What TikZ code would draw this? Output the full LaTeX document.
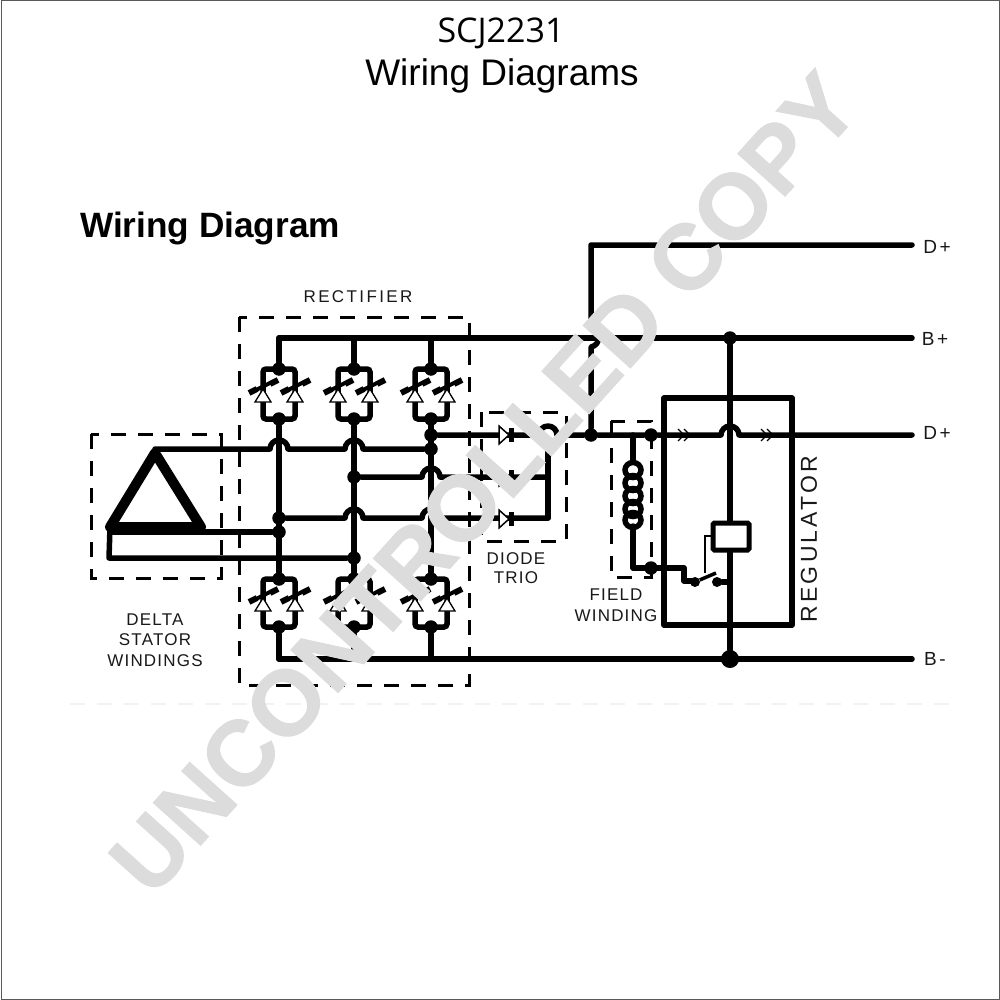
\documentclass[tikz,border=0pt]{standalone}
\usepackage{fontspec}
\setmainfont{Liberation Sans}
\newfontfamily\titlefont{Open Sans}
\newfontfamily\cadfont[LetterSpace=14]{Liberation Sans}
\newfontfamily\cadnarrow[LetterSpace=7]{Liberation Sans}
\newfontfamily\headfont{Liberation Sans Bold}
\newfontfamily\markfont[FakeBold=1]{Liberation Sans Bold}
\definecolor{markgray}{HTML}{DCDCDC}
\tikzset{
  wire/.style={line width=5.5pt,line join=round,line cap=round},
  box/.style={line width=3pt,dash pattern=on 15pt off 12pt},
  junction/.style={circle,fill=black,inner sep=0pt,minimum size=13.5pt},
  bigjunction/.style={circle,fill=black,inner sep=0pt,minimum size=18pt},
  cad/.style={font=\cadfont\fontsize{17}{19}\selectfont,align=center,inner sep=0pt,text=black!90},
  cadn/.style={font=\cadnarrow\fontsize{17}{19}\selectfont,align=center,inner sep=0pt,text=black!90},
  term/.style={font=\cadfont\fontsize{19}{21}\selectfont,inner sep=0pt,text=black!90},
  diodetri/.style={draw=black,fill=white,line width=1.3pt,line join=miter},
}
% hop over a vertical wire at x=#1, on a wire at y=#2
\def\hop#1#2{-- (#1-9,#2) arc[start angle=180,end angle=360,x radius=9,y radius=9]}
% rectifier module with centre x=#1, top y=#2, bottom y=#3, triangle apex y=#4
\newcommand{\rectmod}[4]{%
  \draw[line width=5.5pt,rounded corners=3pt] (#1-16,#4+13) -- (#1-16,#2) -- (#1+16,#2) -- (#1+16,#4+13) -- (#1+16,#3) -- (#1-16,#3) -- cycle;
  \foreach \dx in {-16,16}{
    \draw[line width=4pt] (#1+\dx-7,#4+1) -- (#1+\dx+7,#4-6);
    \draw[line width=6pt] (#1+\dx-14,#4+4) -- (#1+\dx-6,#4);
    \draw[line width=6pt] (#1+\dx+7,#4-5) -- (#1+\dx+15,#4-9);
    \draw[diodetri] (#1+\dx,#4) -- (#1+\dx-8,#4+13) -- (#1+\dx+8,#4+13) -- cycle;
  }
}
% trio diode at x=#1, y=#2
\newcommand{\triodiode}[2]{%
  \draw[diodetri,line width=1.5pt] (#1-11,#2-9) -- (#1-1,#2) -- (#1-11,#2+9) -- cycle;
  \draw[line width=5pt] (#1+1,#2-7) -- (#1+1,#2+7);
}
\newcommand{\chevrons}[2]{%
  \draw[line width=1.2pt,draw=black] (#1-6,#2-6) -- (#1,#2) -- (#1-6,#2+6);
  \draw[line width=1.2pt,draw=black] (#1,#2-6) -- (#1+6,#2) -- (#1,#2+6);
}
\begin{document}
\begin{tikzpicture}[x=1pt,y=-1pt]
\useasboundingbox (0,0) rectangle (1000,1000);
\fill[white] (0,0) rectangle (1000,1000);
\draw[line width=1pt,black!65] (1,1) rectangle (999,999);

% titles
\node[font=\titlefont\fontsize{34}{38}\selectfont,inner sep=0pt,anchor=base] (title1) at (501,42.5) {SCJ2231};
\node[font=\fontsize{37}{44}\selectfont,inner sep=0pt,anchor=base] (title2) at (502,86) {Wiring Diagrams};
\node[font=\headfont\fontsize{35.2}{40}\selectfont,inner sep=0pt,anchor=base west] (head) at (80,237) {Wiring Diagram};

% dashed boxes
\draw[box] (239,317) rectangle (469,685);
\draw[box] (91,434) rectangle (221,578);
\draw[box] (481,412) rectangle (566,541);
\draw[box] (611,421) rectangle (651,577);
\draw[line width=1.5pt,black!5,dash pattern=on 15pt off 12pt] (70,704) -- (960,704);

% rail coordinates
\coordinate (bpIn) at (279,338);
\coordinate (bpEnd) at (912,338);
\coordinate (bmIn) at (279,659);
\coordinate (bmEnd) at (912,659);
\coordinate (dpEnd) at (912,435);
\coordinate (dtop) at (912,245);
\node[junction] (jA) at (730,338) {};
\node[bigjunction] (jB) at (730,659) {};
\node[junction] (jD) at (591,435) {};
\node[junction] (jF) at (651,435) {};
\node[junction] (jG) at (651,568) {};
\node[junction] (j1) at (431,435) {};
\node[junction] (j2) at (431,449) {};
\node[junction] (j3) at (354,477) {};
\node[junction] (j4) at (279,518) {};
\node[junction] (j5) at (279,532) {};
\node[junction] (j6) at (354,558) {};
\foreach \xx/\nm in {279/a,354/b,431/c}{
  \node[junction] (ut\nm) at (\xx,369) {};
  \node[junction] (ub\nm) at (\xx,419) {};
  \node[junction] (lt\nm) at (\xx,579) {};
  \node[junction] (lb\nm) at (\xx,627) {};
}

% rails
\draw[wire] (bpIn) -- (bpEnd);
\draw[wire] (bmIn) -- (bmEnd);
\draw[wire] (jD) -- (591,347) .. controls (601,345) and (601,331) .. (591,329) -- (591,245) -- (dtop);
\draw[wire] (bpIn) -- (uta);
\draw[wire] (354,338) -- (utb);
\draw[wire] (431,338) -- (utc);
\draw[wire] (uba) -- (lta);
\draw[wire] (ubb) -- (ltb);
\draw[wire] (ubc) -- (ltc);
\draw[wire] (lba) -- (bmIn);
\draw[wire] (lbb) -- (354,659);
\draw[wire] (lbc) -- (431,659);

% modules
\foreach \xx in {279,354,431}{
  \rectmod{\xx}{369}{419}{389}
  \rectmod{\xx}{579}{627}{598}
}

% delta
\coordinate (dA) at (155,449);
\coordinate (dB) at (110,527);
\coordinate (dC) at (201,527);
\draw[line width=10pt,line join=round,line cap=round] (155,453) -- (dB) -- (dC) -- cycle;
\draw[wire] (dA) \hop{279}{449} \hop{354}{449} -- (j2);
\draw[wire] (dB) -- (109,558) -- (j6);
\draw[wire] (110,532) -- (j5);

% phase wires
\draw[wire] (j3) \hop{431}{477} -- (548,477);
\draw[wire] (j4) \hop{354}{518} \hop{431}{518} -- (548,518);
\draw[wire] (548,518) -- (548,440);
\draw[wire] (j1) \hop{548}{435} -- (jD) -- (jF) \hop{730}{435} -- (dpEnd);
\triodiode{510}{435}
\triodiode{510}{477}
\triodiode{510}{519}

% field winding
\coordinate (fT) at (633,462);
\coordinate (fB) at (633,526);
\draw[wire] (633,435) -- (fT);
\draw[wire] (fB) -- (633,568) -- (jG);
\foreach \yy in {470,483,496,509,520}{
  \draw[line width=5.5pt] (633,\yy) ellipse[x radius=8,y radius=7.5];
}

% regulator
\draw[line width=5.5pt,line join=round] (664,398) rectangle (792,625);
\draw[wire] (jA) -- (730,427);
\draw[wire] (730,427) -- (jB);
\draw[line width=5pt,fill=white,rounded corners=1.5pt] (713,523) rectangle (749,550);
\draw[line width=2.5pt] (713,536) -- (705,536) -- (705,549);
\draw[line width=1.4pt] (705,549) -- (705,573);
\draw[wire] (jG) -- (684,568) -- (684,581) -- (695,581);
\node[circle,fill=black,inner sep=0pt,minimum size=10pt] (sw1) at (695,582) {};
\node[circle,fill=black,inner sep=0pt,minimum size=10pt] (sw2) at (717,582) {};
\draw[line width=3.5pt] (sw1) -- (716,573);
\draw[wire] (sw2) -- (730,582);
\chevrons{684}{435}
\chevrons{767}{435}

% labels
\node[cad] (lblR) at (358,297) {RECTIFIER};
\node[cadn] (lblS) at (155,640) {DELTA\\[1.5pt]STATOR\\[1.5pt]WINDINGS};
\node[cadn] (lblD) at (516,568) {DIODE\\[0pt]TRIO};
\node[cadn] (lblF) at (616,605) {FIELD\\[2pt]WINDING};
\node[cad,font=\cadfont\fontsize{23}{25}\selectfont,rotate=90] (lblG) at (809,539) {REGULATOR};
\node[term] (tD1) at (937,247) {D+};
\node[term] (tB1) at (935,339) {B+};
\node[term] (tD2) at (937,433) {D+};
\node[term] (tB2) at (935,659) {B-};

% watermark
\node[font=\markfont\fontsize{92.5}{100}\selectfont,text=markgray,rotate=48,inner sep=0pt] (mark) at (484,483) {UNCONTROLLED COPY};
\end{tikzpicture}
\end{document}
